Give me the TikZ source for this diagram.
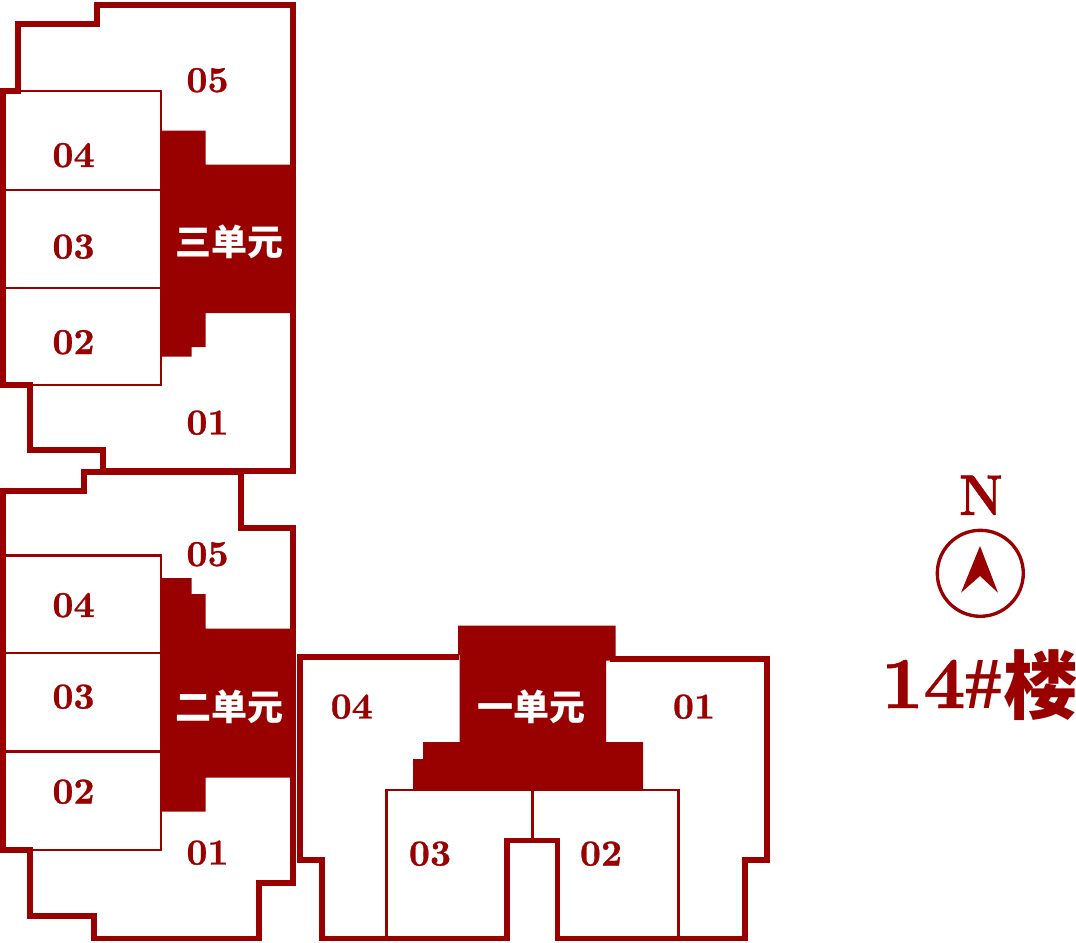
\documentclass[tikz,border=0pt]{standalone}
\usepackage{fontspec}
\newfontfamily\cjkfont{Noto Sans CJK SC}
\newfontfamily\hashfont{Liberation Serif}
\newfontfamily\numfont{lmroman10-bold.otf}[FakeBold=0.8]
\definecolor{plan}{HTML}{990000}
\tikzset{
  x=0.75pt,y=-0.75pt,
  outerwall/.style={draw=plan,line width=3.9pt,line join=miter},
  leftwall/.style={draw=plan,line width=4.4pt,line join=miter},
  part/.style={draw=plan,line width=2.15pt},
  core/.style={fill=plan,draw=none},
  num/.style={text=plan,font=\numfont\fontsize{27.5}{28}\selectfont,anchor=base,inner sep=0pt},
  unitname/.style={text=white,font=\cjkfont\fontsize{27}{28}\selectfont,anchor=center,inner sep=0pt}
}
\begin{document}
\begin{tikzpicture}
\useasboundingbox (0,0) rectangle (1076,943);
% unit 3
\draw[outerwall] (3,91) -- (18,91) -- (18,24) -- (97,24) -- (97,5) -- (293,5) -- (293,471) -- (103,471) -- (103,450) -- (30,450) -- (30,385) -- (3,385) -- cycle;
\draw[leftwall] (3,91) -- (3,385);
\draw[part] (3,91) -- (161,91) -- (161,385) -- (3,385);
\draw[part] (3,190) -- (161,190);
\draw[part] (3,288) -- (161,288);
\fill[core] (161,130.5) -- (205.5,130.5) -- (205.5,164.5) -- (295,164.5) -- (295,313) -- (205.5,313) -- (205.5,347) -- (191.5,347) -- (191.5,356.5) -- (161,356.5) -- cycle;
% unit 2
\draw[outerwall] (3,491) -- (84,491) -- (84,472) -- (241,472) -- (241,528) -- (293,528) -- (293,883) -- (259,883) -- (259,938.5) -- (94,938.5) -- (94,916) -- (30,916) -- (30,850) -- (3,850) -- cycle;
\draw[leftwall] (3,491) -- (3,850);
\draw[part] (3,555.5) -- (161,555.5) -- (161,850) -- (3,850);
\draw[part] (3,653) -- (161,653);
\draw[part] (3,751.5) -- (161,751.5);
\fill[core] (161,578) -- (191.5,578) -- (191.5,594) -- (205.5,594) -- (205.5,628.5) -- (295,628.5) -- (295,777.5) -- (205.5,777.5) -- (205.5,811.5) -- (161,811.5) -- cycle;
% unit 1
\draw[outerwall] (459,657) -- (300,657) -- (300,860) -- (322,860) -- (322,938.5) -- (507,938.5) -- (507,840.5) -- (557.5,840.5) -- (557.5,938.5) -- (745,938.5) -- (745,860) -- (767,860) -- (767,659) -- (610,659);
\draw[part] (386.7,938) -- (386.7,790) -- (678.7,790) -- (678.7,938);
\draw[part] (532.3,790) -- (532.3,840);
\fill[core] (458,625.5) -- (615.5,625.5) -- (615.5,660.5) -- (606,660.5) -- (606,742) -- (643,742) -- (643,790) -- (413,790) -- (413,759) -- (423,759) -- (423,742) -- (459.5,742) -- (459.5,655) -- (458,655) -- cycle;
% labels
\node[num] (u3a) at (207.5,92) {05};
\node[num] (u3b) at (73.5,167) {04};
\node[num] (u3c) at (73.5,258.5) {03};
\node[num] (u3d) at (73.5,354) {02};
\node[num] (u3e) at (207.5,434.5) {01};
\node[num] (u2a) at (207.5,566) {05};
\node[num] (u2b) at (73.5,617) {04};
\node[num] (u2c) at (73.5,708.5) {03};
\node[num] (u2d) at (73.5,803.5) {02};
\node[num] (u2e) at (207.5,864.5) {01};
\node[num] (u1a) at (351.7,718.5) {04};
\node[num] (u1b) at (694,718.5) {01};
\node[num] (u1c) at (430,865.5) {03};
\node[num] (u1d) at (601,865.5) {02};
\node[unitname] (n3) at (229.7,241.7) {\bfseries 三单元};
\node[unitname] (n2) at (229.7,706.7) {\bfseries 二单元};
\node[unitname] (n1) at (531.7,706.7) {\bfseries 一单元};
% compass
\node[text=plan,font=\numfont\fontsize{43}{43}\selectfont,anchor=base,inner sep=0pt,xscale=0.85] (north) at (981,515) {N};
\draw[draw=plan,line width=2.5pt] (980.3,573.3) circle[radius=43];
\fill[plan] (980,546) -- (998,592.7) -- (980,576) -- (961,592.7) -- cycle;
% title
\node[text=plan,font=\numfont\fontsize{55}{55}\selectfont,anchor=base west,inner sep=0pt] (title) at (881,708) {14{\hashfont\bfseries\#}};
\node[text=plan,font=\cjkfont\fontsize{56}{56}\selectfont\bfseries,anchor=center,inner sep=0pt] (lou) at (1040.5,685.5) {楼};
\end{tikzpicture}
\end{document}
